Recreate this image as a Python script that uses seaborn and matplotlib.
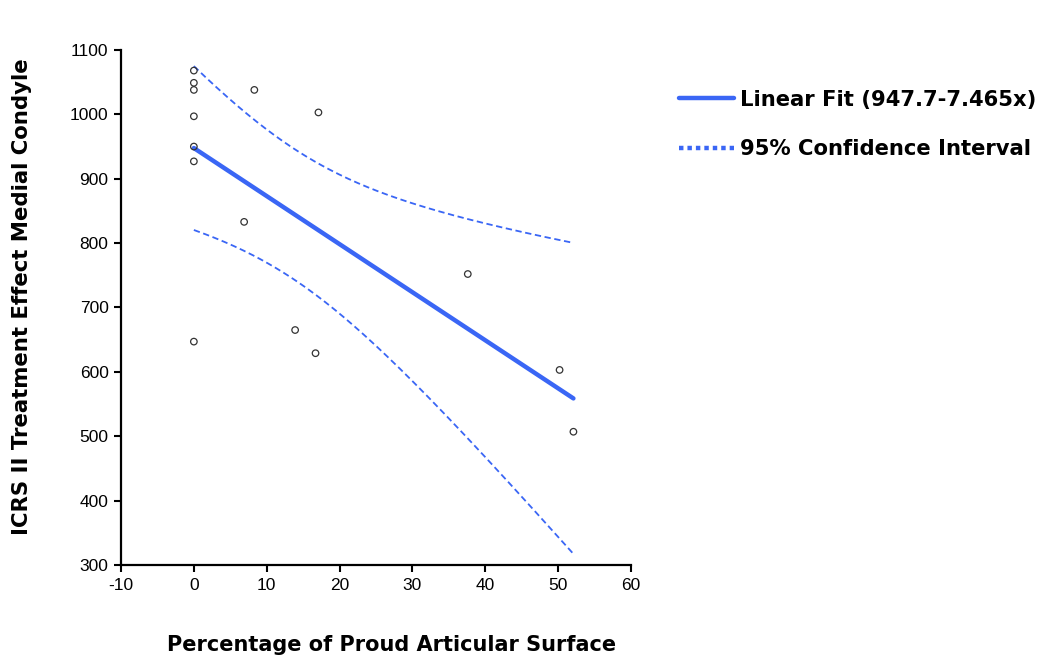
import numpy as np
import pandas as pd
import matplotlib
matplotlib.use("Agg")
import matplotlib.pyplot as plt
from matplotlib.lines import Line2D
import seaborn as sns

# Observations: percentage of proud articular surface vs ICRS II score
proud_pct = [0, 0, 0, 0, 0, 0, 0, 8.3, 17.1, 6.9, 13.9, 16.7, 37.6, 50.2, 52.1]
icrs_score = [1068, 1049, 1038, 997, 950, 927, 647, 1038, 1003, 833, 665, 629, 752, 603, 507]

# Reported least-squares fit and its residual standard error
intercept = 947.7
slope = -7.465
residual_se = 182.0

x_ticks = [-10, 0, 10, 20, 30, 40, 50, 60]
y_ticks = [300, 400, 500, 600, 700, 800, 900, 1000, 1100]

fit_label = "Linear Fit (947.7-7.465x)"
ci_label = "95% Confidence Interval"
x_label = "Percentage of Proud Articular Surface"
y_label = "ICRS II Treatment Effect Medial Condyle"

BLUE = "#3a66f5"

sns.set_theme(style="ticks")
plt.rcParams["font.family"] = ["DejaVu Sans"]
plt.rcParams["text.color"] = "black"
plt.rcParams["axes.labelcolor"] = "black"
plt.rcParams["axes.unicode_minus"] = False

df = pd.DataFrame({"x": proud_pct, "y": icrs_score})

# Fitted line and 95% confidence band for the mean response
x = np.asarray(proud_pct, dtype=float)
n = len(x)
grid = np.linspace(x.min(), x.max(), 200)
pred = intercept + slope * grid
sxx = np.sum((x - x.mean()) ** 2)
t_crit = 2.160  # t(0.975, df=13)
half = t_crit * residual_se * np.sqrt(1.0 / n + (grid - x.mean()) ** 2 / sxx)
band = pd.DataFrame({"x": grid, "fit": pred, "lo": pred - half, "hi": pred + half})

fig = plt.figure(figsize=(10.45, 6.63), dpi=100)
ax = fig.add_axes([0.1158, 0.1478, 0.4880, 0.7768])

sns.lineplot(data=band, x="x", y="hi", ax=ax, color=BLUE, lw=1.3,
             linestyle=(0, (3.5, 2)))
sns.lineplot(data=band, x="x", y="lo", ax=ax, color=BLUE, lw=1.3,
             linestyle=(0, (3.5, 2)))
sns.lineplot(data=band, x="x", y="fit", ax=ax, color=BLUE, lw=3.2)
sns.scatterplot(data=df, x="x", y="y", ax=ax, marker="o", s=22,
                facecolor="none", edgecolor="#333333", linewidth=0.9, zorder=5)

ax.set_xlim(-10, 60)
ax.set_ylim(300, 1100)
ax.set_xticks(x_ticks)
ax.set_yticks(y_ticks)
ax.tick_params(axis="both", direction="out", length=5, width=1.5,
               labelsize=12.5, colors="black", pad=4)
for lab in ax.get_xticklabels() + ax.get_yticklabels():
    lab.set_fontfamily("Liberation Sans")
for side in ("top", "right"):
    ax.spines[side].set_visible(False)
for side in ("left", "bottom"):
    ax.spines[side].set_linewidth(1.6)
    ax.spines[side].set_color("black")
ax.set_xlabel("")
ax.set_ylabel("")

fig.text(0.375, 0.027, x_label, ha="center", va="center",
         fontsize=15, fontweight="bold")
fig.text(0.021, 0.553, y_label, ha="center", va="center", rotation=90,
         fontsize=15.3, fontweight="bold")

handles = [
    Line2D([], [], color=BLUE, lw=3.2),
    Line2D([], [], color=BLUE, lw=3.2, linestyle=(0, (1, 0.9))),
]
fig.legend(handles, [fit_label, ci_label], loc="upper left",
           bbox_to_anchor=(0.636, 0.887), frameon=False,
           prop={"weight": "bold", "size": 15.2},
           handlelength=2.6, handletextpad=0.25, labelspacing=1.4,
           borderaxespad=0.3)

fig.savefig("out.png", dpi=100)
